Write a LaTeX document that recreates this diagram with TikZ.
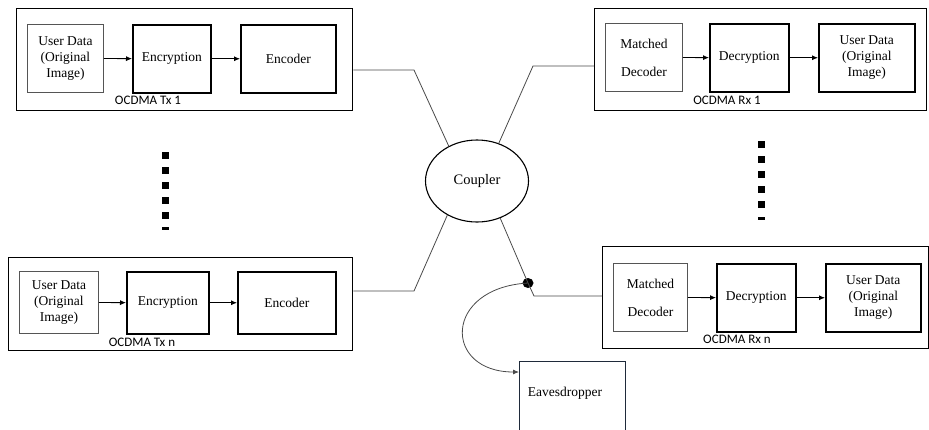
\documentclass[tikz,border=0pt]{standalone}
\usepackage{fontspec}
\setmainfont{Liberation Serif}
\newfontfamily\tnr{Liberation Serif}
\newfontfamily\calfont{Carlito}
\usetikzlibrary{shapes.geometric,arrows.meta}
\definecolor{thin}{HTML}{555555}
\definecolor{conn}{HTML}{4A4A4A}
\definecolor{navy}{HTML}{1F2A3A}
\begin{document}
\begin{tikzpicture}[x=1pt,y=-1pt,
  outerbox/.style={draw=black,line width=1.3pt,anchor=north west,inner sep=0pt},
  thinbox/.style={draw=thin,line width=0.9pt,anchor=north west,inner sep=0pt,align=center,font=\tnr\fontsize{13.5}{16}\selectfont},
  thickbox/.style={draw=black,line width=1.5pt,anchor=north west,inner sep=0pt,align=center,font=\tnr\fontsize{13.5}{16}\selectfont},
  mdbox/.style={thinbox,font=\tnr\fontsize{13.5}{28}\selectfont},
  lbl/.style={font=\calfont\fontsize{13}{15}\selectfont,inner sep=0pt},
  arr/.style={draw=black,line width=0.8pt,-{Latex[length=6pt,width=5pt]}},
  wire/.style={draw=conn,line width=0.8pt},
  sq/.style={fill=black,draw=none,minimum width=7pt,minimum height=7pt,inner sep=0pt},
  dsh/.style={fill=black,draw=none,minimum width=7pt,minimum height=3pt,inner sep=0pt}]
\useasboundingbox (0,0) rectangle (929,429);

% Tx 1
\node[outerbox,minimum width=336,minimum height=102] (tx1) at (16,8) {};
\node[thinbox,minimum width=76,minimum height=68] (ud1) at (27,24) {User Data\\(Original\\Image)};
\node[thickbox,minimum width=78,minimum height=68] (enc1) at (132,24) {Encryption};
\node[thickbox,minimum width=95,minimum height=68] (ecd1) at (240,24) {Encoder};
\node[lbl] (l1) at (148,100) {OCDMA Tx 1};
\draw[arr] (ud1) -- (enc1);
\draw[arr] (enc1) -- (ecd1);

% Tx n
\node[outerbox,minimum width=344,minimum height=93] (txn) at (8,257) {};
\node[thinbox,minimum width=79,minimum height=62] (udn) at (19,271) {User Data\\(Original\\Image)};
\node[thickbox,minimum width=82,minimum height=62] (encn) at (126,271) {Encryption};
\node[thickbox,minimum width=98,minimum height=62] (ecdn) at (237,271) {Encoder};
\node[lbl] (ln) at (142,342) {OCDMA Tx n};
\draw[arr] (udn) -- (encn);
\draw[arr] (encn) -- (ecdn);

% Rx 1
\node[outerbox,minimum width=332,minimum height=102] (rx1) at (594,8) {};
\node[mdbox,minimum width=77,minimum height=68] (md1) at (605,23) {Matched\\Decoder};
\node[thickbox,minimum width=79,minimum height=68] (dec1) at (709,23) {Decryption};
\node[thickbox,minimum width=96,minimum height=68] (uo1) at (818,23) {User Data\\(Original\\Image)};
\node[lbl] (r1) at (727,100) {OCDMA Rx 1};
\draw[arr] (md1) -- (dec1);
\draw[arr] (dec1) -- (uo1);

% Rx n
\node[outerbox,minimum width=326,minimum height=102] (rxn) at (602,246) {};
\node[mdbox,minimum width=74,minimum height=68] (mdn) at (613,263) {Matched\\Decoder};
\node[thickbox,minimum width=79,minimum height=68] (decn) at (716,263) {Decryption};
\node[thickbox,minimum width=95,minimum height=68] (uon) at (825,263) {User Data\\(Original\\Image)};
\node[lbl] (rn) at (737,339) {OCDMA Rx n};
\draw[arr] (mdn) -- (decn);
\draw[arr] (decn) -- (uon);

% Coupler
\node[ellipse,draw=black,line width=1.1pt,minimum width=103,minimum height=82,inner sep=0pt,font=\tnr\fontsize{14.5}{16}\selectfont] (cp) at (477,181) {Coupler};

% Eavesdropper
\node[draw=navy,line width=1pt,anchor=north west,minimum width=106,minimum height=85,inner sep=0pt] (eav) at (519,361) {};
\node[font=\tnr\fontsize{13.5}{16}\selectfont,inner sep=0pt] (eavl) at (565,393) {Eavesdropper};

% connectors
\coordinate (k1) at (414,70);
\coordinate (k2) at (533,66);
\coordinate (k3) at (414,291);
\coordinate (k4) at (534,296);
\coordinate (ea) at (519,372);
\node[ellipse,fill=black,minimum width=11,minimum height=10,inner sep=0pt] (tap) at (528,283) {};
\draw[wire] (tx1.east |- k1) -- (k1) -- (cp.129);
\draw[wire] (rx1.west |- k2) -- (k2) -- (cp.60);
\draw[wire] (txn.east |- k3) -- (k3) -- (cp.229);
\draw[wire] (cp.302) -- (tap.center) -- (k4) -- (rxn.west |- k4);
\draw[draw=conn,line width=0.8pt,-{Latex[length=6pt,width=5pt]}] (tap.center) .. controls (443,288) and (443,372) .. (ea);

% dots
\foreach \y [count=\i] in {155,170,185,200,215} {\node[sq] (dl\i) at (165,\y) {};}
\node[dsh] (dl6) at (165,228) {};
\foreach \y [count=\i] in {144,159,174,189,204} {\node[sq] (dr\i) at (761,\y) {};}
\node[dsh] (dr6) at (761,218) {};
\end{tikzpicture}
\end{document}
